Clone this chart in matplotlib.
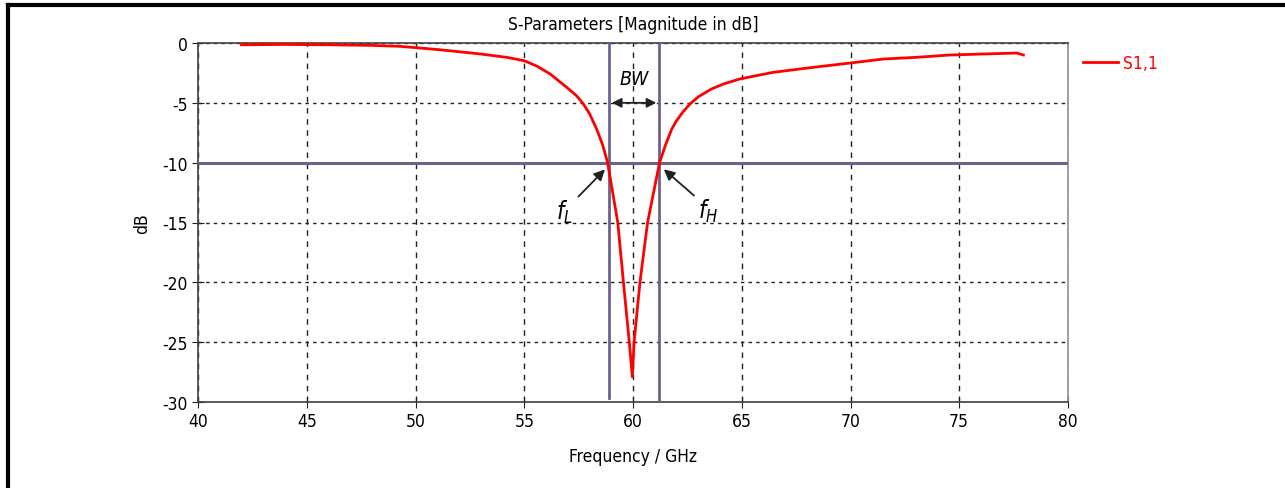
import matplotlib
matplotlib.use("Agg")
import matplotlib.pyplot as plt
from matplotlib.lines import Line2D

plt.rcParams['font.family'] = ['DejaVu Sans']
plt.rcParams['font.stretch'] = 'condensed'
plt.rcParams['axes.unicode_minus'] = False

# S1,1 (GHz, dB)
freq = [42.0, 44.0, 46.0, 48.0, 49.3, 51.1, 53.0, 54.2, 55.0, 55.6, 56.2, 56.95, 57.4,
        57.7, 58.0, 58.33, 58.6, 58.83, 59.3, 59.56, 59.83, 59.97, 60.05, 60.32, 60.67,
        61.22, 61.5, 61.78, 62.0, 62.3, 62.62, 63.0, 63.61, 64.2, 64.92, 66.45, 68.3,
        70.0, 71.5, 73.0, 74.6, 76.1, 77.64, 77.95]
s11 = [-0.15, -0.12, -0.15, -0.2, -0.28, -0.56, -0.92, -1.2, -1.48, -1.95, -2.6, -3.7, -4.4,
       -5.05, -5.9, -7.2, -8.5, -9.97, -15.0, -20.0, -25.0, -27.9, -25.0, -20.0, -15.0,
       -10.0, -8.5, -7.2, -6.5, -5.75, -5.1, -4.5, -3.84, -3.4, -3.0, -2.45, -2.03,
       -1.67, -1.34, -1.2, -1.0, -0.92, -0.84, -1.0]

f_low = 58.9
f_high = 61.2
level = -10

xticks = [40, 45, 50, 55, 60, 65, 70, 75, 80]
yticks = [0, -5, -10, -15, -20, -25, -30]

purple = '#6e6190'

fig = plt.figure(figsize=(12.85, 4.89), dpi=100)
ax = fig.add_axes([198/1285, 1-403/489, 870/1285, 359/489])

ax.plot(freq, s11, color='#ff0000', lw=2, zorder=4)
ax.axhline(level, color=purple, lw=2.2, zorder=3)
ax.plot([f_low, f_low], [0, -29.7], color=purple, lw=2, zorder=3)
ax.plot([f_high, f_high], [0, -30], color=purple, lw=2, zorder=3)

ax.set_xlim(40, 80)
ax.set_ylim(-30, 0)
ax.set_xticks(xticks)
ax.set_yticks(yticks)
ax.xaxis.grid(True, color='#202020', linestyle=(0, (4, 4)), lw=1)
ax.yaxis.grid(True, color='#202020', linestyle=(0, (2.5, 3)), lw=1)
ax.tick_params(direction='inout', length=8, labelsize=12.5, colors='#202020', labelcolor='black')
for s in ax.spines.values():
    s.set_color('#404040')
    s.set_linewidth(1.2)
ax.spines['right'].set_color('#909090')

ax.set_title('S-Parameters [Magnitude in dB]', fontsize=12.5, pad=10)
ax.set_xlabel('Frequency / GHz', fontsize=12.5, labelpad=12)
ax.set_ylabel('dB', fontsize=12.5, labelpad=8)

# bandwidth annotations
ax.annotate('', xy=(f_low, -5), xytext=(f_high, -5),
            arrowprops=dict(arrowstyle='<|-|>', color='#202020', lw=1.3, mutation_scale=14))
ax.text((f_low + f_high)/2, -3.0, 'BW', style='italic', fontsize=14, ha='center', va='center')
ax.annotate('', xy=(f_low - 0.1, -10.4), xytext=(57.4, -13.0),
            arrowprops=dict(arrowstyle='-|>', color='#202020', lw=1.3, mutation_scale=16))
ax.annotate('', xy=(f_high + 0.12, -10.4), xytext=(62.9, -12.9),
            arrowprops=dict(arrowstyle='-|>', color='#202020', lw=1.3, mutation_scale=16))
ax.text(57.25, -14.1, r'$\mathit{f}_{\mathit{L}}$', fontsize=17, ha='right', va='center')
ax.text(63.0, -14.0, r'$\mathit{f}_{\mathit{H}}$', fontsize=17, ha='left', va='center')

# legend entry outside the axes
fig.add_artist(Line2D([1083/1285, 1118/1285], [1-63/489, 1-63/489], color='#ff0000', lw=2))
fig.text(1123/1285, 1-64/489, 'S1,1', color='#ff0000', fontsize=12.5, va='center')

# frame at left and top
fig.add_artist(Line2D([8/1285, 8/1285], [0, 1-6/489], color='black', lw=3))
fig.add_artist(Line2D([8/1285, 1], [1-6/489, 1-6/489], color='black', lw=3))

fig.savefig('out.png', dpi=100)
